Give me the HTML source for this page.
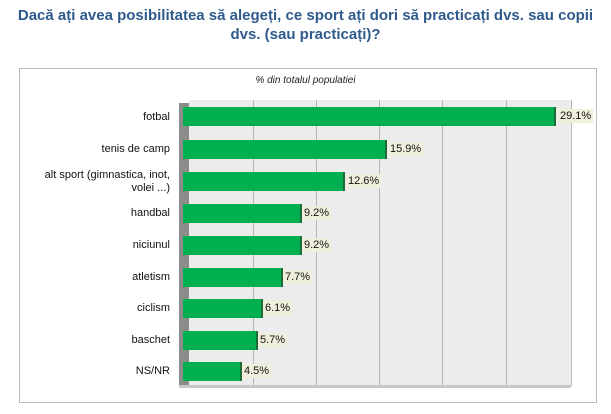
<!DOCTYPE html>
<html><head><style>
body{margin:0;background:#fff;width:611px;height:414px;position:relative;font-family:"Liberation Sans",sans-serif;overflow:hidden}
.t{position:absolute;left:0;width:611px;top:6px;text-align:center;color:#2f5a8c;font-weight:bold;font-size:15px;line-height:19px;white-space:nowrap}
.box{position:absolute;left:19px;top:68px;width:578px;height:335px;border:1px solid #bbb;box-sizing:border-box}
.sub{position:absolute;left:0;width:611px;top:75px;text-align:center;font-style:italic;font-size:10px;color:#222}
.plot{position:absolute;left:189px;top:100px;width:382px;height:286px;background:#ececec;border-right:1px solid #bbb}
.wall{position:absolute;left:179px;top:103px;width:10px;height:285px;background:#8c8c8c}
.floor{position:absolute;left:179px;top:385px;width:392px;height:3px;background:#c8c8c8}
.g{position:absolute;top:100px;width:1px;height:288px;background:#b5b5b5}
.bar{position:absolute;left:183px;height:19px;background:#00b050;border-right:2px solid #1d6b35}
.lab{position:absolute;right:441px;font-size:11px;color:#111;text-align:right;line-height:13px}
.v{position:absolute;font-size:11px;background:#efefdc;padding:1px 2px;color:#111}
</style></head><body>
<div class="t">Dacă ați avea posibilitatea să alegeți, ce sport ați dori să practicați dvs. sau copii<br>dvs. (sau practicați)?</div>
<div class="box"></div>
<div class="sub">% din totalul populatiei</div>
<div class="plot"></div>
<div class="g" style="left:253px"></div><div class="g" style="left:316px"></div><div class="g" style="left:379px"></div><div class="g" style="left:442px"></div><div class="g" style="left:506px"></div>
<div class="wall"></div><div class="floor"></div>

<div class="bar" style="top:107px;width:371px"></div><div class="lab" style="top:111px">fotbal</div><div class="v" style="left:558px;top:109px">29.1%</div>
<div class="bar" style="top:140px;width:202px"></div><div class="lab" style="top:143px">tenis de camp</div><div class="v" style="left:388px;top:142px">15.9%</div>
<div class="bar" style="top:172px;width:160px"></div><div class="lab" style="top:169px">alt sport (gimnastica, inot,<br>volei ...)</div><div class="v" style="left:346px;top:174px">12.6%</div>
<div class="bar" style="top:204px;width:117px"></div><div class="lab" style="top:207px">handbal</div><div class="v" style="left:302px;top:206px">9.2%</div>
<div class="bar" style="top:236px;width:117px"></div><div class="lab" style="top:239px">niciunul</div><div class="v" style="left:302px;top:238px">9.2%</div>
<div class="bar" style="top:268px;width:98px"></div><div class="lab" style="top:271px">atletism</div><div class="v" style="left:283px;top:270px">7.7%</div>
<div class="bar" style="top:299px;width:78px"></div><div class="lab" style="top:302px">ciclism</div><div class="v" style="left:263px;top:301px">6.1%</div>
<div class="bar" style="top:331px;width:73px"></div><div class="lab" style="top:334px">baschet</div><div class="v" style="left:258px;top:333px">5.7%</div>
<div class="bar" style="top:362px;width:57px"></div><div class="lab" style="top:365px">NS/NR</div><div class="v" style="left:242px;top:364px">4.5%</div>
</body></html>
